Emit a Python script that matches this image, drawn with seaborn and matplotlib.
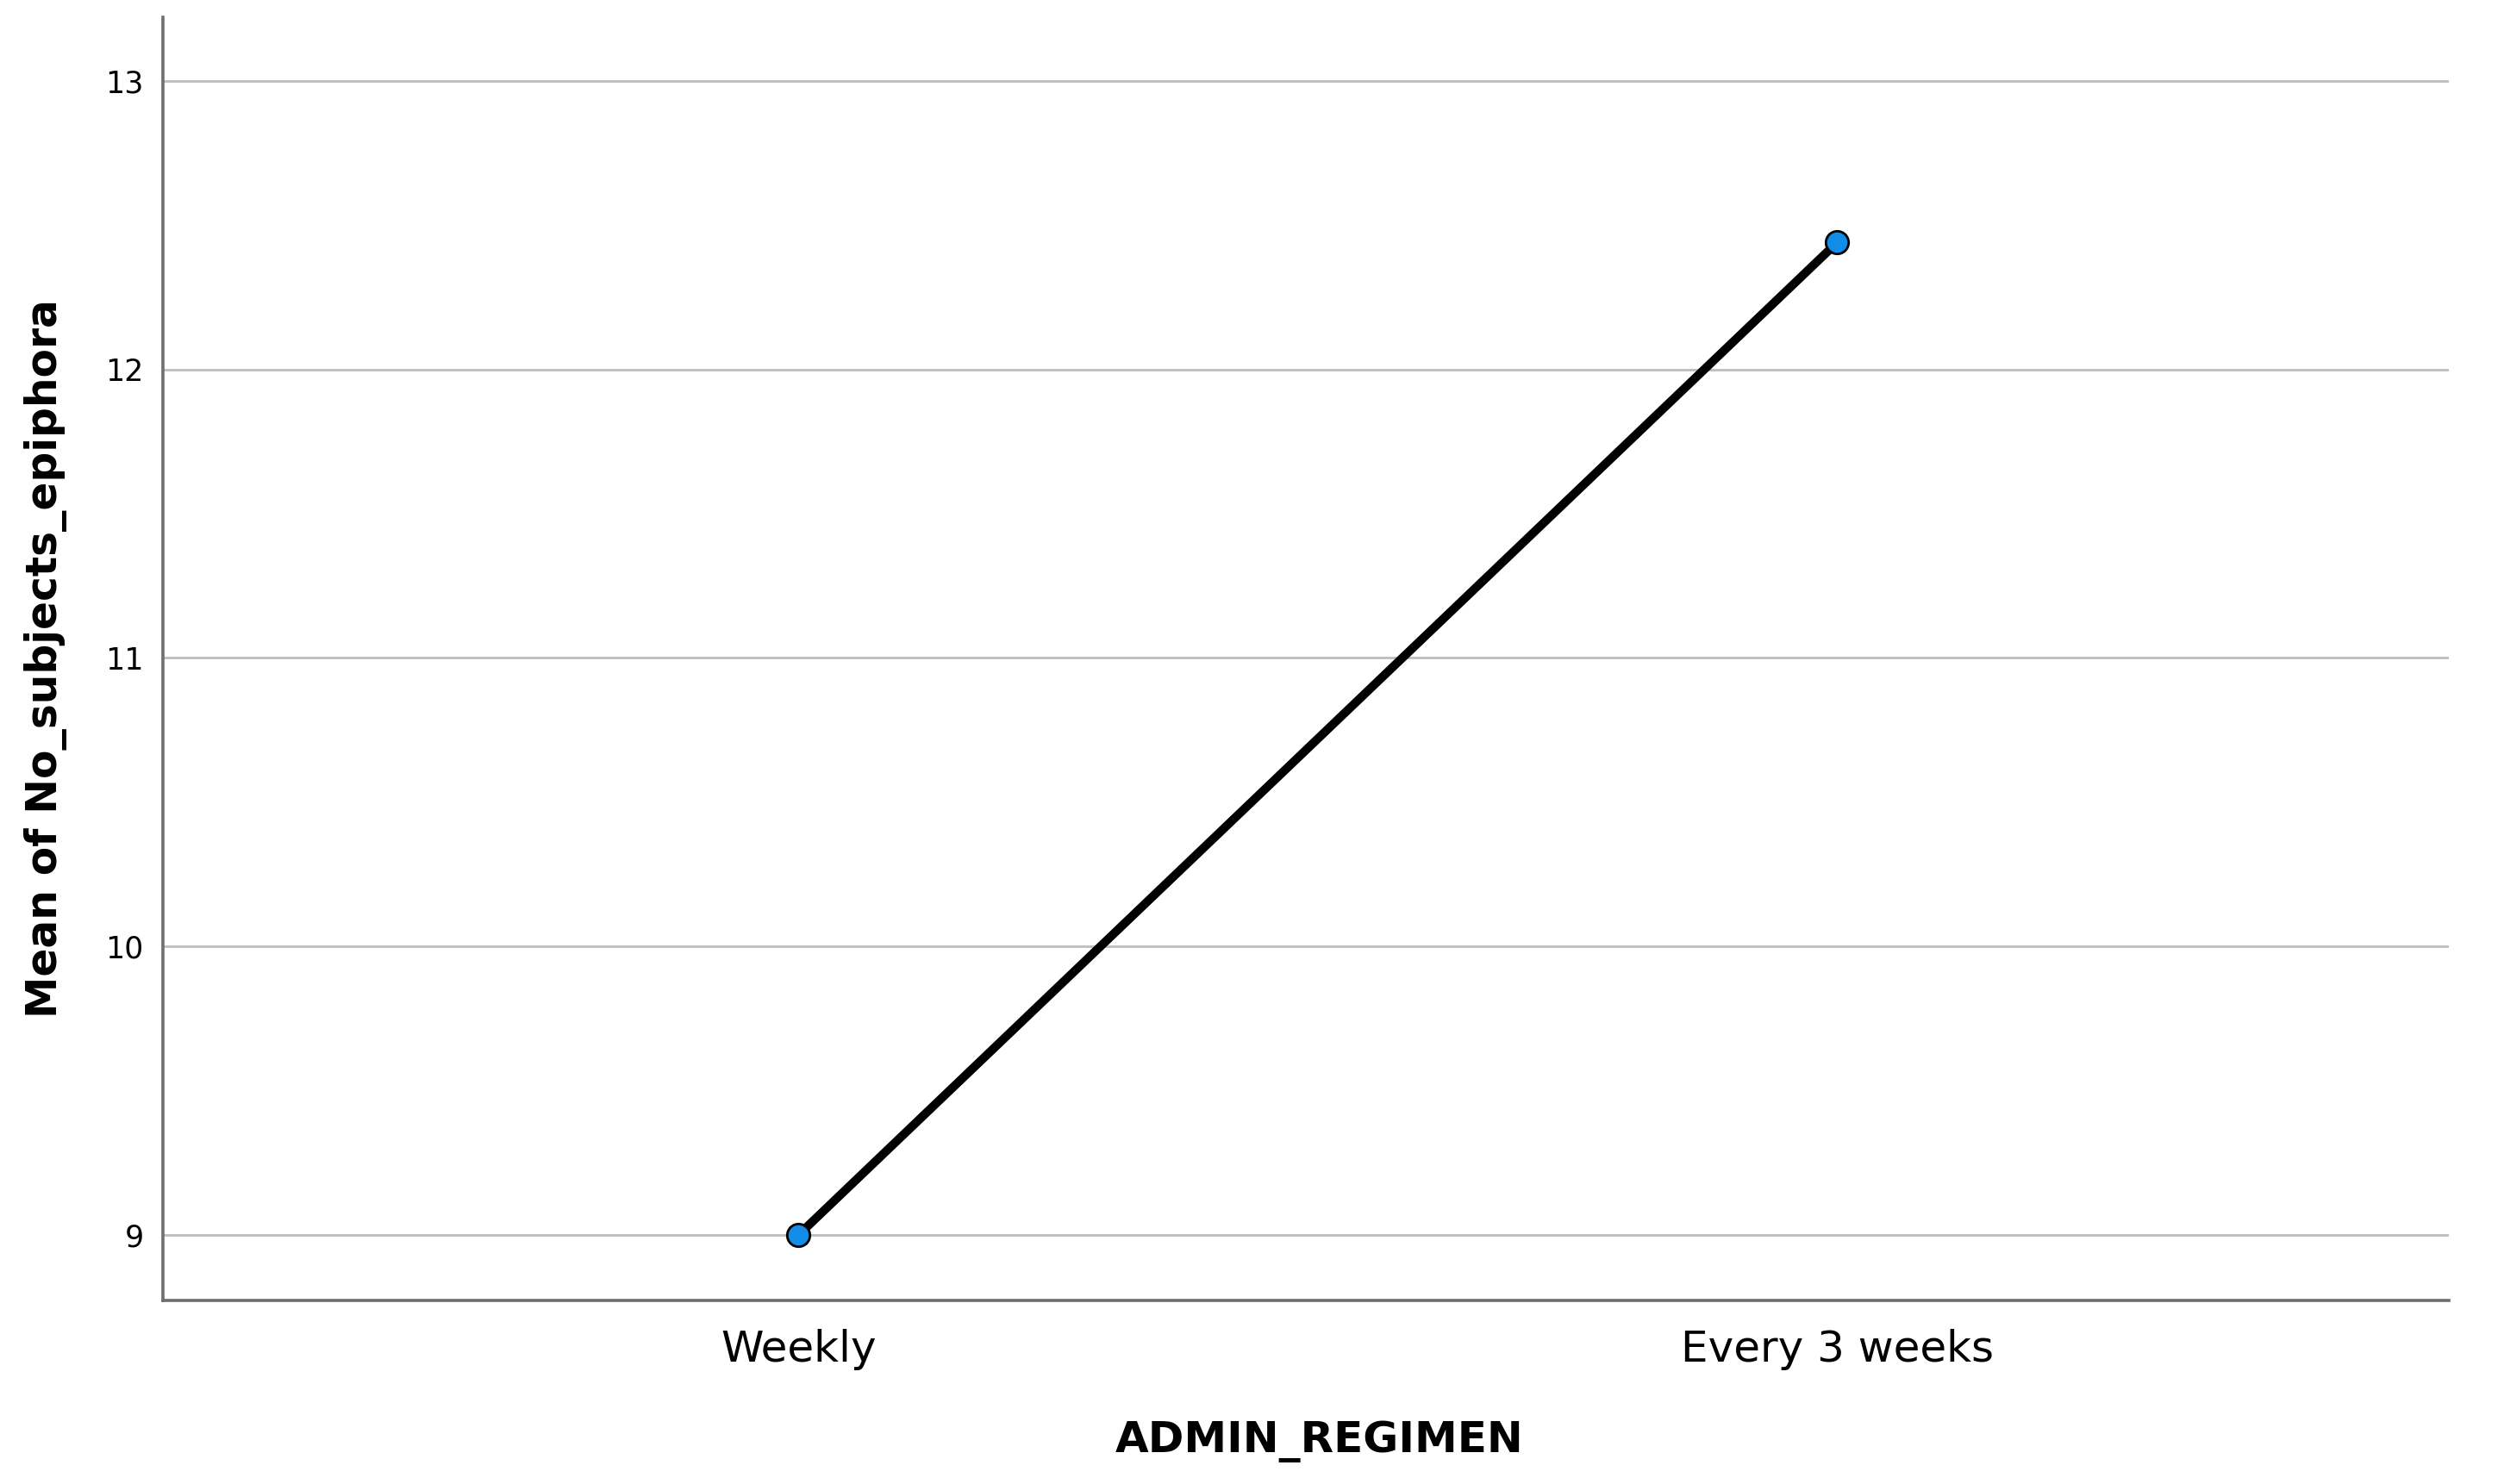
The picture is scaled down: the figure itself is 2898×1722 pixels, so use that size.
import pandas as pd
import matplotlib.pyplot as plt
import seaborn as sns

# Values
regimens = ['Weekly', 'Every 3 weeks']
mean_epiphora = [9.0, 12.44]
y_ticks = [9, 10, 11, 12, 13]

df = pd.DataFrame({'ADMIN_REGIMEN': regimens, 'mean': mean_epiphora})

sns.set_style('white')
plt.rcParams['font.family'] = ['DejaVu Sans']

fig, ax = plt.subplots(figsize=(14.49, 8.61), dpi=200)
fig.subplots_adjust(left=0.0652, right=0.9803, top=0.9884, bottom=0.1237)

# Gridlines first so the line sits on top
ax.set_axisbelow(True)
ax.yaxis.grid(True, color='#bdbdbd', linewidth=1.0)

sns.lineplot(data=df, x='ADMIN_REGIMEN', y='mean', ax=ax, color='black',
             linewidth=3.6, marker='o', markersize=9.5,
             markerfacecolor='#128ce6', markeredgecolor='black',
             markeredgewidth=1.0)

ax.set_xlim(-0.612, 1.589)
ax.set_ylim(8.773, 13.221)
ax.set_yticks(y_ticks)
ax.set_yticklabels([str(t) for t in y_ticks])

ax.tick_params(axis='y', length=0, pad=8, labelsize=12.5, colors='black')
ax.tick_params(axis='x', length=0, pad=12, labelsize=18, colors='black')

ax.set_xlabel('ADMIN_REGIMEN', fontsize=18, fontweight='bold', labelpad=20,
              color='black')
ax.xaxis.set_label_coords(0.506, -0.094)
ax.set_ylabel('Mean of No_subjects_epiphora', fontsize=17.5, fontweight='bold',
              labelpad=16, color='black')

for side in ['top', 'right']:
    ax.spines[side].set_visible(False)
for side in ['left', 'bottom']:
    ax.spines[side].set_color('#6e6e6e')
    ax.spines[side].set_linewidth(1.3)

fig.savefig('out.png', dpi=200)
